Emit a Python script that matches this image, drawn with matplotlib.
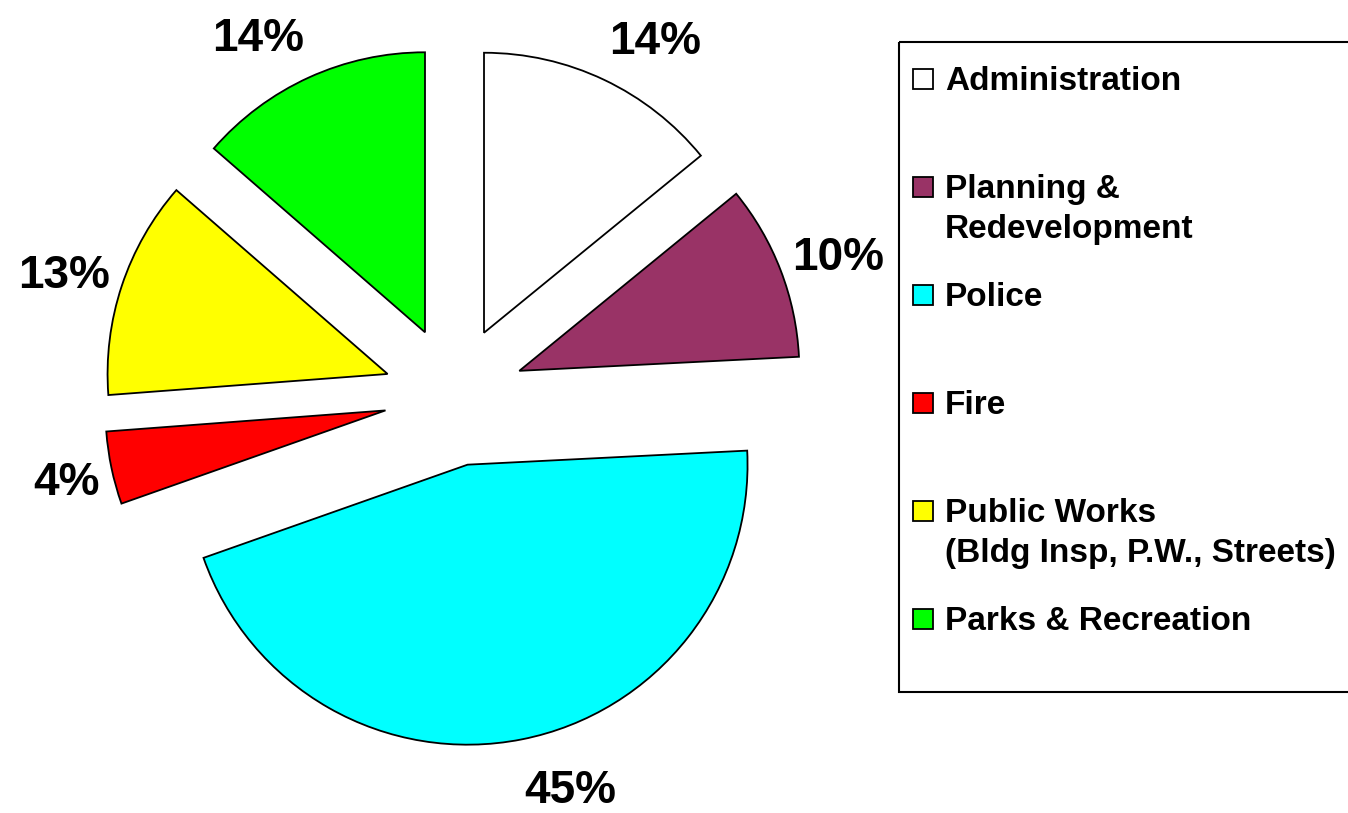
import matplotlib
matplotlib.use('Agg')
import numpy as np
import matplotlib.pyplot as plt
from matplotlib.patches import Rectangle

plt.rcParams['font.family'] = ['Liberation Sans', 'DejaVu Sans']
plt.rcParams['font.weight'] = 'bold'

# Dados
categories = ['Administration', 'Planning &\nRedevelopment', 'Police', 'Fire',
              'Public Works\n(Bldg Insp, P.W., Streets)', 'Parks & Recreation']
shares = [14.1, 10.1, 45.4, 4.2, 12.6, 13.6]
colors = ['#FFFFFF', '#993366', '#00FFFF', '#FF0000', '#FFFF00', '#00FF00']

pct_labels = ['%.0f%%' % (100 * v / sum(shares)) for v in shares]

W, H = 1348, 813
fig = plt.figure(figsize=(W / 100, H / 100), dpi=100)

# eixo da pizza: uma unidade = raio da pizza (280 px)
cx, cy, r = 454, 396, 280
ax = fig.add_axes([0, 0, 1, 1])
wedges, texts = ax.pie(
    shares, colors=colors, startangle=90, counterclock=False,
    explode=[0.25] * len(shares), labels=pct_labels, labeldistance=1.043,
    wedgeprops=dict(edgecolor='black', linewidth=1.3),
    textprops=dict(fontsize=33, fontweight='bold'))
ax.set_xlim(-cx / r, (W - cx) / r)
ax.set_ylim(-(H - cy) / r, cy / r)
ax.set_aspect('auto')
ax.axis('off')

# rotulos: alinhados pela lateral (ha da pizza) e deslocados na vertical
fig.canvas.draw()
renderer = fig.canvas.get_renderer()
for t, w in zip(texts, wedges):
    theta = np.deg2rad((w.theta1 + w.theta2) / 2)
    t.set_verticalalignment('center_baseline')
    hh = 0.8 * t.get_window_extent(renderer).height / r
    x, y = t.get_position()
    t.set_position((x, y + hh * np.sin(theta)))

# legenda desenhada em coordenadas de pixel
lax = fig.add_axes([0, 0, 1, 1], facecolor='none')
lax.set_xlim(0, W)
lax.set_ylim(H, 0)
lax.axis('off')
lax.add_patch(Rectangle((899, 42), 500, 650, fill=False, edgecolor='black', linewidth=1.5))
for i, (lab, col) in enumerate(zip(categories, colors)):
    base = 90 + 108 * i
    lax.add_patch(Rectangle((913, base - 21), 20, 20, facecolor=col,
                            edgecolor='black', linewidth=1.3))
    for j, line in enumerate(lab.split('\n')):
        lax.text(945, base + 40 * j, line, fontsize=24, fontweight='bold',
                 va='baseline', ha='left')

fig.savefig('out.png', dpi=100)
